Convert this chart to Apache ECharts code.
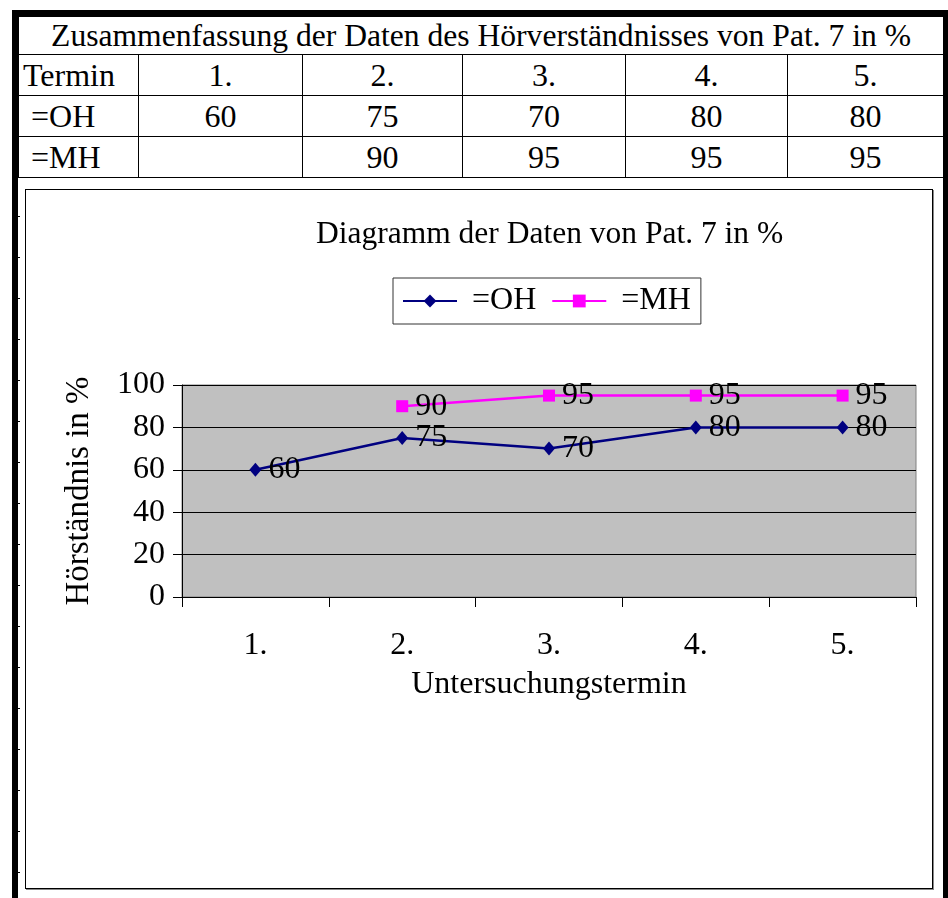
<!DOCTYPE html>
<html>
<head>
<meta charset="utf-8">
<script src="https://cdn.jsdelivr.net/npm/echarts@6/dist/echarts.min.js"></script>
<style>
  html, body { margin: 0; padding: 0; background: #fff; }
  body { width: 948px; height: 898px; position: relative; overflow: hidden; font-family: "Liberation Serif", "Times New Roman", serif; }
  .frame-left { position: absolute; left: 12px; top: 10px; width: 6px; height: 888px; background: #000; }
  .frame-ticks { position: absolute; left: 18px; top: 176px; width: 2px; height: 722px;
    background: repeating-linear-gradient(to bottom, transparent 0, transparent 40px, #000 40px, #000 41px); }
  .frame-top { position: absolute; left: 12px; top: 10px; width: 936px; height: 6px; background: #000; }
  .frame-right { position: absolute; left: 943px; top: 10px; width: 5px; height: 888px; background: #000; }
  table { position: absolute; left: 18px; top: 16px; border-collapse: collapse; table-layout: fixed; width: 925px; }
  td { border: 1px solid #000; font-size: 32px; text-align: center; padding: 0; height: 40px; line-height: 38px; color: #000; white-space: nowrap; }
  td.first { text-align: left; padding-left: 4px; }
  td.title { height: 37px; line-height: 36px; font-size: 31.6px; }
  .box { position: absolute; left: 25px; top: 189px; width: 906px; height: 698px; border: 1px solid #000; box-shadow: 1px 1px 0 #888; }
  #chart { position: absolute; left: 0; top: 0; width: 948px; height: 898px; }
</style>
</head>
<body>
<div class="frame-left"></div>
<div class="frame-ticks"></div>
<div class="frame-top"></div>
<div class="frame-right"></div>
<table id="tbl"></table>
<div class="box"></div>
<div id="chart"></div>
<script>
// Data
const tableTitle = "Zusammenfassung der Daten des Hörverständnisses von Pat. 7 in %";
const categories = ["1.", "2.", "3.", "4.", "5."];
const seriesNames = ["=OH", "=MH"];
const ohValues = [60, 75, 70, 80, 80];
const mhValues = [null, 90, 95, 95, 95];
const yTicks = [0, 20, 40, 60, 80, 100];

// table
let colWidths = [120, 164, 160, 163, 162, 156];
let tbl = document.getElementById("tbl");
let html = "<colgroup>" + colWidths.map(w => `<col style="width:${w}px">`).join("") + "</colgroup>";
html += `<tr><td class="title" colspan="6">${tableTitle}</td></tr>`;
html += `<tr><td class="first">Termin</td>` + categories.map(c => `<td>${c}</td>`).join("") + "</tr>";
html += `<tr><td class="first">&nbsp;${seriesNames[0]}</td>` + ohValues.map(v => `<td>${v == null ? "" : v}</td>`).join("") + "</tr>";
html += `<tr><td class="first">&nbsp;${seriesNames[1]}</td>` + mhValues.map(v => `<td>${v == null ? "" : v}</td>`).join("") + "</tr>";
tbl.innerHTML = html;

// chart
const font = "Liberation Serif";
const fs = 32;
let chart = echarts.init(document.getElementById("chart"));
let label = { show: true, position: "right", distance: 7, fontSize: fs, color: "#000", fontFamily: font };
chart.setOption({
  animation: false,
  textStyle: { fontFamily: font },
  title: {
    text: "Diagramm der Daten von Pat. 7 in %",
    left: 316, top: 219, padding: 0,
    textStyle: { fontSize: 31.5, fontWeight: "normal", color: "#000", fontFamily: font }
  },
  legend: {
    left: 393, top: 278,
    padding: [7, 10, 7, 9],
    borderColor: "#333", borderWidth: 1,
    itemWidth: 54, itemHeight: 16, itemGap: 15,
    textStyle: { fontSize: fs, color: "#000", fontFamily: font, padding: [0, 0, 0, 10] },
    data: seriesNames
  },
  grid: {
    left: 182, top: 385, width: 734, height: 212,
    show: true, backgroundColor: "#c0c0c0", borderColor: "#808080", borderWidth: 1
  },
  xAxis: {
    type: "category", data: categories, boundaryGap: true,
    axisLine: { lineStyle: { color: "#000" } },
    axisTick: { show: true, length: 10, lineStyle: { color: "#000" } },
    axisLabel: { fontSize: fs, color: "#000", margin: 33, fontFamily: font },
    name: "Untersuchungstermin", nameLocation: "middle", nameGap: 72,
    nameTextStyle: { fontSize: fs, color: "#000", fontFamily: font }
  },
  yAxis: {
    type: "value", min: yTicks[0], max: yTicks[yTicks.length - 1], interval: 20,
    axisLine: { show: true, lineStyle: { color: "#000" } },
    axisTick: { show: true, length: 9, lineStyle: { color: "#000" } },
    axisLabel: { fontSize: fs, color: "#000", margin: 17, fontFamily: font },
    splitLine: { show: true, lineStyle: { color: "#000", width: 1 } },
    name: "Hörständnis in %", nameLocation: "middle", nameGap: 86, nameRotate: 90,
    nameTextStyle: { fontSize: 33, color: "#000", fontFamily: font }
  },
  series: [
    {
      name: seriesNames[0], type: "line", data: ohValues,
      symbol: "diamond", symbolSize: [12, 14],
      itemStyle: { color: "#000080" }, lineStyle: { color: "#000080", width: 2.5 },
      label: label
    },
    {
      name: seriesNames[1], type: "line", data: mhValues,
      symbol: "rect", symbolSize: 12,
      itemStyle: { color: "#ff00ff" }, lineStyle: { color: "#ff00ff", width: 2.5 },
      label: label
    }
  ]
});
</script>
</body>
</html>
